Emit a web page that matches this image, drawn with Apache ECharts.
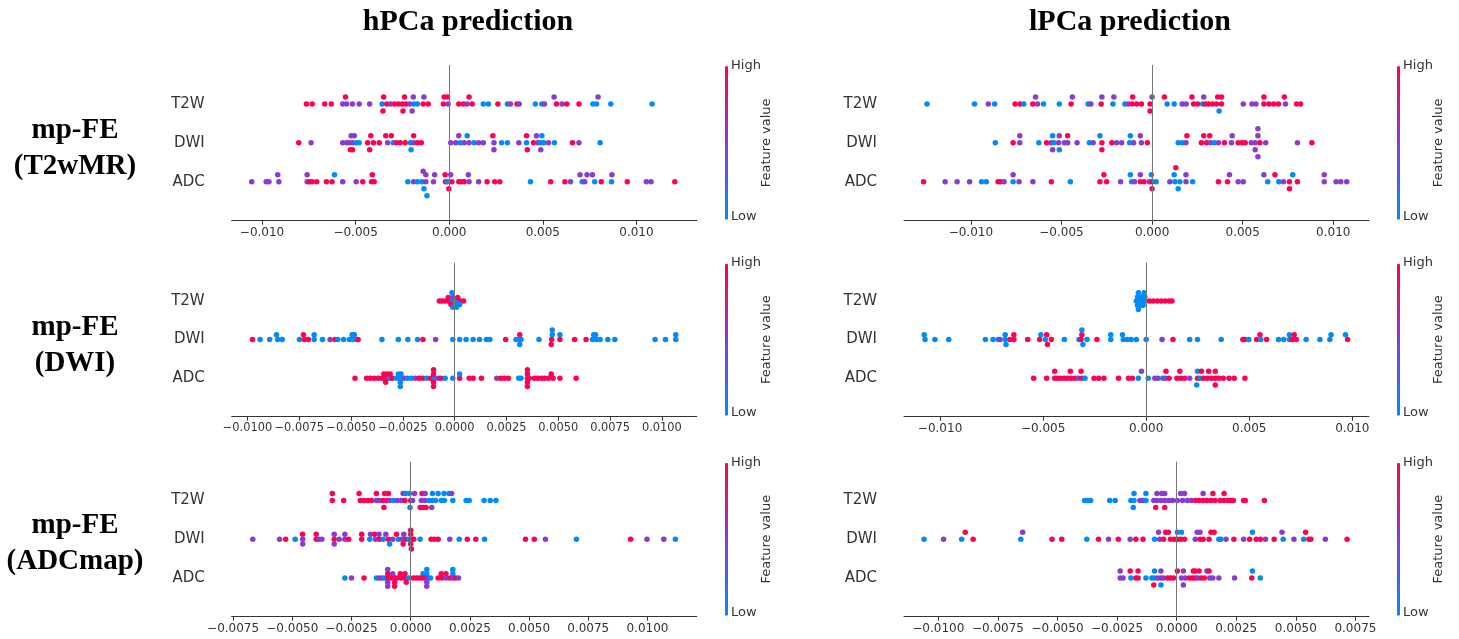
<!DOCTYPE html>
<html>
<head>
<meta charset="utf-8">
<script src="https://cdn.jsdelivr.net/npm/echarts@6/dist/echarts.min.js"></script>
<style>
html,body{margin:0;padding:0;background:#fff;}
#chart{width:1459px;height:639px;}
</style>
</head>
<body>
<div id="chart"></div>
<script>
// ---------- data (SHAP values read in thousandths: [value, swarm level, feature value 0..1]) ----------
const FEATURES = ['T2W', 'DWI', 'ADC'];
const UNIT = 1e-3;
const COL_TITLES = ['hPCa prediction', 'lPCa prediction'];
const ROW_TITLES = [['mp-FE', '(T2wMR)'], ['mp-FE', '(DWI)'], ['mp-FE', '(ADCmap)']];

const ticks5 = [-0.010, -0.005, 0.000, 0.005, 0.010];
const ticks5Labels = ['\u22120.010', '\u22120.005', '0.000', '0.005', '0.010'];
const ticksML = [-0.0100, -0.0075, -0.0050, -0.0025, 0.0000, 0.0025, 0.0050, 0.0075, 0.0100];
const ticksMLLabels = ['\u22120.0100', '\u22120.0075', '\u22120.0050', '\u22120.0025', '0.0000', '0.0025', '0.0050', '0.0075', '0.0100'];
const ticksBL = [-0.0075, -0.0050, -0.0025, 0.0000, 0.0025, 0.0050, 0.0075, 0.0100];
const ticksBLLabels = ['\u22120.0075', '\u22120.0050', '\u22120.0025', '0.0000', '0.0025', '0.0050', '0.0075', '0.0100'];
const ticksBR = [-0.0100, -0.0075, -0.0050, -0.0025, 0.0000, 0.0025, 0.0050, 0.0075];
const ticksBRLabels = ['\u22120.0100', '\u22120.0075', '\u22120.0050', '\u22120.0025', '0.0000', '0.0025', '0.0050', '0.0075'];

// hPCa, mp-FE (T2wMR)
const TL_T2W = [[-5.54,1,1],[-3.50,1,1],[-2.39,1,1],[-1.92,1,.5],[-1.35,1,.5],[-0.27,1,1],[-0.10,1,1],[1.06,1,1],[5.60,1,.5],[7.95,1,.5],
[-7.63,0,1],[-7.32,0,1],[-6.65,0,1],[-6.30,0,1],[-5.69,0,.5],[-5.48,0,.5],[-5.17,0,.5],[-4.81,0,.5],[-4.25,0,.5],[-3.58,0,0],[-3.33,0,1],[-3.13,0,.5],[-2.92,0,1],[-2.72,0,1],[-2.52,0,1],[-2.31,0,1],[-2.11,0,.5],[-1.90,0,0],[-1.70,0,0],[-1.39,0,1],[-1.12,0,1],[-0.31,0,1],[-0.06,0,.5],[0.51,0,1],[0.76,0,1],[0.96,0,.5],[1.23,0,1],[1.82,0,0],[2.09,0,0],[2.60,0,1],[3.11,0,0],[3.27,0,.5],[3.62,0,1],[3.74,0,.5],[4.60,0,0],[4.95,0,0],[5.09,0,.5],[5.73,0,1],[6.03,0,.5],[6.28,0,1],[6.93,0,1],[7.67,0,0],[7.87,0,0],[8.63,0,0],[10.84,0,0],
[-3.54,-1,1],[-2.47,-1,1],[-1.98,-1,.5]];
const TL_DWI = [[-5.24,1,.5],[-5.07,1,.5],[-4.19,1,1],[-3.39,1,1],[-3.09,1,1],[-1.90,1,1],[0.51,1,.5],[0.96,1,0],[2.33,1,1],[4.13,1,1],[4.66,1,.5],[4.95,1,0],
[-8.04,0,1],[-7.38,0,.5],[-5.69,0,.5],[-5.48,0,.5],[-5.34,0,.5],[-5.17,0,.5],[-4.97,0,0],[-4.81,0,0],[-4.36,0,1],[-4.05,0,1],[-3.74,0,1],[-3.29,0,.5],[-2.99,0,0],[-2.82,0,1],[-2.62,0,1],[-2.35,0,1],[-2.07,0,0],[-1.90,0,.5],[-1.70,0,1],[-1.49,0,1],[0.08,0,.5],[0.35,0,.5],[0.59,0,0],[0.80,0,.5],[1.06,0,.5],[1.33,0,0],[1.57,0,.5],[1.82,0,.5],[2.39,0,.5],[2.80,0,0],[3.11,0,0],[3.72,0,.5],[4.13,0,0],[4.50,0,1],[4.74,0,.5],[4.89,0,0],[5.05,0,0],[5.30,0,.5],[5.62,0,0],[6.58,0,1],[6.93,0,.5],[8.06,0,0],
[-5.28,-1,1],[-5.17,-1,1],[-4.25,-1,1],[-2.04,-1,0],[2.39,-1,.5],[4.17,-1,1],[4.89,-1,.5]];
const TL_ADC = [[-9.16,1,.5],[-7.59,1,.5],[-6.13,1,0],[-4.11,1,1],[-1.39,1.5,.5],[-1.25,1,.5],[-0.78,1,.5],[-0.22,1,1],[0.08,1,.5],[1.02,1,.5],[6.99,1,.5],[7.36,1,.5],[7.65,1,.5],[8.69,1,.5],
[-10.55,0,.5],[-9.78,0,.5],[-9.63,0,.5],[-9.10,0,.5],[-7.59,0,.5],[-7.46,0,1],[-7.32,0,1],[-7.08,0,1],[-6.56,0,1],[-6.26,0,1],[-5.69,0,.5],[-4.97,0,.5],[-4.62,0,1],[-4.15,0,1],[-4.01,0,1],[-2.21,0,0],[-1.90,0,.5],[-1.70,0,0],[-1.45,0,0],[-1.25,0,.5],[-0.84,0,.5],[-0.20,0,1],[-0.10,0,0],[0.14,0,1],[0.51,0,1],[0.65,0,1],[0.80,0,1],[1.06,0,.5],[1.57,0,.5],[2.02,0,1],[2.43,0,1],[2.70,0,1],[4.34,0,0],[5.42,0,1],[6.18,0,1],[6.48,0,.5],[7.10,0,0],[7.24,0,.5],[7.77,0,0],[8.12,0,1],[8.67,0,0],[9.51,0,1],[10.53,0,.5],[10.78,0,.5],[12.05,0,1],
[-1.35,-1,0],[-1.19,-2,0],[-0.02,-1,1]];

// lPCa, mp-FE (T2wMR)
const TR_T2W = [[-6.43,1,.5],[-4.40,1,.5],[-2.77,1,.5],[-2.11,1,.5],[-1.07,1,1],[0,1,.5],[0.68,1,1],[2.20,1,1],[2.85,1,.5],[3.62,1,1],[3.83,1,1],[6.17,1,1],[7.30,1,1],
[-12.42,0,0],[-9.80,0,0],[-9.04,0,.5],[-8.69,0,0],[-7.56,0,1],[-7.28,0,1],[-7.08,0,0],[-6.58,0,1],[-6.32,0,.5],[-5.99,0,0],[-5.12,0,0],[-4.47,0,1],[-3.53,0,0],[-3.38,0,.5],[-2.81,0,1],[-2.16,0,0],[-1.50,0,0],[-1.31,0,.5],[-1.09,0,1],[-0.85,0,1],[-0.59,0,1],[-0.11,0,1],[0.83,0,0],[1.22,0,0],[1.66,0,.5],[1.88,0,.5],[2.29,0,1],[2.51,0,1],[2.79,0,0],[2.94,0,1],[3.12,0,1],[3.33,0,1],[3.55,0,1],[3.83,0,1],[5.03,0,.5],[5.51,0,.5],[5.73,0,.5],[6.17,0,1],[6.45,0,1],[6.71,0,1],[6.97,0,1],[7.36,0,.5],[7.97,0,1],[8.19,0,1],
[-0.11,-1,1],[3.70,-1,0]];
const TR_DWI = [[-7.30,1,.5],[-5.49,1,0],[-5.12,1,.5],[-4.66,1,1],[-2.88,1,0],[-1.20,1,0],[-0.65,1,.5],[1.92,1,1],[2.85,1,1],[3.18,1,1],[4.42,1,.5],[5.84,2,.5],[5.84,1,.5],
[-8.65,0,0],[-7.67,0,1],[-7.30,0,.5],[-6.25,0,0],[-5.82,0,1],[-5.56,0,.5],[-5.42,0,0],[-5.16,0,.5],[-4.84,0,.5],[-4.66,0,.5],[-4.14,0,.5],[-3.46,0,0],[-3.25,0,.5],[-2.77,0,1],[-2.22,0,1],[-1.96,0,.5],[-1.68,0,.5],[-1.24,0,0],[-1.02,0,.5],[-0.59,0,.5],[-0.26,0,1],[1.44,0,0],[1.66,0,0],[1.87,0,.5],[2.72,0,1],[3.01,0,1],[3.22,0,.5],[3.44,0,0],[3.66,0,.5],[3.99,0,1],[4.38,0,.5],[4.75,0,1],[4.97,0,1],[5.14,0,1],[5.47,0,.5],[5.69,0,.5],[5.95,0,1],[6.27,0,.5],[8.02,0,.5],[8.82,0,1],
[-5.49,-1,.5],[-5.12,-1,0],[-2.77,-1,1],[5.69,-1,.5],[5.84,-2,.5]];
const TR_ADC = [[-7.67,1,.5],[-2.66,1,1],[-1.20,1,0],[-0.65,1,.5],[-0.04,1,0],[1.31,2,1],[1.22,1,0],[1.87,1,.5],[4.27,1,.5],[6.17,1,.5],[6.78,1,1],[7.76,1,0],[9.50,1,.5],
[-12.61,0,1],[-11.42,0,.5],[-10.76,0,.5],[-10.07,0,.5],[-9.41,0,0],[-9.15,0,0],[-8.50,0,1],[-8.37,0,1],[-8.17,0,.5],[-7.67,0,0],[-7.34,0,.5],[-6.58,0,.5],[-5.56,0,1],[-4.51,0,0],[-2.88,0,1],[-2.51,0,1],[-1.74,0,.5],[-1.13,0,0],[-0.96,0,.5],[-0.65,0,1],[-0.44,0,1],[-0.15,0,.5],[0,0,1],[0.22,0,0],[0.98,0,.5],[1.26,0,0],[1.53,0,0],[1.87,0,.5],[2.24,0,0],[3.66,0,1],[4.16,0,1],[4.75,0,.5],[5.03,0,.5],[6.38,0,0],[6.99,0,0],[7.25,0,.5],[7.58,0,1],[8.02,0,1],[9.50,0,.5],[10.15,0,.5],[10.41,0,.5],[10.74,0,.5],
[0,-1,1],[1.44,-1,0],[7.58,-1,1]];

// hPCa, mp-FE (DWI)
const ML_T2W = [[-0.74,0,1],[-0.61,0,1],[-0.46,0,1],[-0.31,0,1],[-0.09,0,0],[0.09,0,0],[0.28,0,1],[0.43,0,1],
[-0.31,0.5,1],[-0.09,0.5,.5],[0.15,0.5,1],[-0.13,1.2,0],
[-0.18,-0.5,1],[0.09,-0.5,0],[0.24,-0.5,0],[-0.09,-0.9,0],[0.09,-0.9,0]];
const ML_DWI = [[-8.60,0.7,0],[-7.30,0.7,1],[-6.78,0.7,0],[-4.95,0.7,0],[-4.84,0.7,0],[3.14,0.7,1],[4.71,1.4,0],[4.71,0.7,0],[5.08,0.7,0],[6.71,0.7,0],[6.80,0.7,0],[10.67,0.7,0],
[-9.76,0,1],[-9.39,0,0],[-8.93,0,0],[-8.54,0,0],[-8.32,0,0],[-7.49,0,0],[-7.25,0,1],[-7.06,0,1],[-6.78,0,0],[-6.38,0,0],[-6.01,0,.5],[-5.77,0,1],[-5.64,0,0],[-5.36,0,0],[-5.08,0,0],[-4.90,0,0],[-4.71,0,0],[-4.66,0,1],[-3.51,0,0],[-2.72,0,0],[-2.26,0,0],[-1.79,0,0],[-1.53,0,1],[-0.92,0,.5],[-0.09,0,0],[0.24,0,0],[0.55,0,0],[0.89,0,0],[1.20,0,0],[1.53,0,0],[1.70,0,0],[2.46,0,1],[2.96,0,0],[3.09,0,0],[3.20,0,0],[4.07,0,0],[4.68,0,1],[5.08,0,1],[5.79,0,1],[6.34,0,1],[6.65,0,0],[6.84,0,0],[7.02,0,0],[7.39,0,0],[7.73,0,0],[9.67,0,0],[10.17,0,0],[10.67,0,0],
[3.14,-0.7,0],[4.66,-0.7,1]];
const ML_ADC = [[-4.81,0,1],[-4.25,0,1],[-4.07,0,1],[-3.88,0,1],[-3.70,0,1],[-3.51,0,1],[-3.38,0,1],[-3.23,0,1],[-3.14,0,0],[-3.01,0,1],[-2.81,0,0],[-2.62,0,0],[-2.44,0,.5],[-2.27,0,0],[-2.09,0,0],[-1.90,0,.5],[-1.72,0,1],[-1.53,0,1],[-1.35,0,0],[-1.16,0,1],[-0.98,0,0],[-0.79,0,.5],[-0.65,0,1],[-0.46,0,0],[-0.09,0,0],[0.24,0,1],[0.70,0,1],[0.89,0,1],[1.29,0,1],[2.03,0,.5],[2.22,0,1],[2.40,0,1],[2.59,0,1],[3.09,0,0],[3.20,0,0],[3.51,0,.5],[3.60,0,1],[3.84,0,1],[4.01,0,1],[4.20,0,1],[4.34,0,1],[4.53,0,1],[4.75,0,1],[5.08,0,1],[5.86,0,1],
[-3.42,0.6,1],[-3.27,0.6,1],[-3.11,0.6,1],[-2.72,0.6,0],[-2.59,0.6,0],[-1.02,0.6,1],[-1.02,1.2,1],[3.51,0.6,1],[3.51,1.2,1],[4.66,0.6,1],[0.24,0.6,0],
[-3.33,-0.6,1],[-2.62,-0.6,0],[-2.62,-1.2,0],[-1.02,-0.6,1],[-1.02,-1.2,1],[3.51,-0.6,1],[3.51,-1.2,1]];

// lPCa, mp-FE (DWI)
const MR_T2W = [[-0.48,0,0],[-0.34,0,0],[-0.19,0,0],[-0.06,0,0],[0.15,0,1],[0.34,0,1],[0.54,0,1],[0.73,0,1],[0.92,0,1],[1.11,0,1],[1.25,0,1],
[-0.42,0.6,0],[-0.30,0.6,0],[-0.19,0.6,0],[-0.06,0.6,0],[-0.38,1.2,0],[-0.10,1.2,0],
[-0.42,-0.6,0],[-0.25,-0.6,0],[-0.15,-0.6,0],[-0.38,-1.2,0]];
const MR_DWI = [[-10.77,0.7,0],[-6.84,0.7,0],[-6.42,0.7,1],[-5.11,0.7,0],[-4.83,0.7,1],[-3.12,0.7,1],[-3.12,1.4,0],[-1.72,0.7,0],[-1.15,0.7,0],[5.52,0.7,1],[6.95,0.7,0],[7.18,0.7,1],[8.97,0.7,0],[9.67,0.7,0],
[-10.73,0,0],[-10.25,0,0],[-9.58,0,0],[-7.80,0,0],[-7.43,0,0],[-7.18,0,0],[-7.09,0,.5],[-6.84,0,0],[-6.61,0,1],[-6.42,0,1],[-5.75,0,1],[-5.17,0,1],[-4.89,0,0],[-4.60,0,1],[-3.97,0,0],[-3.26,0,0],[-3.16,0,1],[-2.87,0,0],[-2.39,0,1],[-1.72,0,0],[-1.11,0,0],[-0.92,0,0],[-0.73,0,0],[-0.48,0,0],[0,0,0],[0.77,0,.5],[1.30,0,1],[2.11,0,0],[2.49,0,0],[3.64,0,0],[4.69,0,1],[4.79,0,1],[4.98,0,0],[5.36,0,1],[5.56,0,0],[5.84,0,1],[6.42,0,0],[6.67,0,0],[6.95,0,0],[7.09,0,1],[7.28,0,1],[7.76,0,0],[8.43,0,0],[8.91,0,0],[9.77,0,1],
[-6.80,-0.7,0],[-4.79,-0.7,1],[-3.07,-0.7,0]];
const MR_ADC = [[-4.44,1,1],[-3.68,1,1],[-3.16,1,1],[-0.23,1,.5],[0.96,1,1],[1.63,1,1],[2.49,1,0],[2.68,1,1],[3.03,1,1],[3.35,1,1],
[-5.46,0,1],[-4.83,0,1],[-4.44,0,1],[-4.31,0,1],[-4.16,0,1],[-3.98,0,1],[-3.83,0,1],[-3.64,0,1],[-3.45,0,1],[-3.30,0,.5],[-3.12,0,1],[-2.97,0,0],[-2.53,0,1],[-2.30,0,1],[-2.05,0,1],[-1.34,0,1],[-0.86,0,1],[-0.67,0,1],[-0.38,0,0],[0.10,0,0],[0.42,0,.5],[0.57,0,.5],[0.80,0,0],[0.92,0,.5],[1.11,0,1],[1.49,0,1],[1.69,0,1],[1.88,0,1],[2.11,0,.5],[2.49,0,1],[2.62,0,0],[2.78,0,1],[2.97,0,1],[3.16,0,1],[3.35,0,1],[3.54,0,1],[3.74,0,1],[4.02,0,1],[4.27,0,1],[4.79,0,1],
[2.45,-1,0],[3.35,-1,1]];

// hPCa, mp-FE (ADCmap)
const BL_T2W = [[-3.31,1,1],[-2.18,1,1],[-1.45,1,1],[-1.10,1,1],[-0.94,1,1],[-0.32,1,.5],[-0.21,1,0],[-0.05,1,0],[0.16,1,.5],[0.48,1,1],[0.61,1,.5],[0.92,1,0],[1.16,1,0],[1.41,1,0],[1.62,1,0],[1.73,1,.5],
[-3.31,0,1],[-2.83,0,1],[-2.13,0,1],[-1.97,0,1],[-1.81,0,1],[-1.65,0,1],[-1.45,0,.5],[-1.32,0,.5],[-1.16,0,1],[-1.00,0,1],[-0.89,0,.5],[-0.73,0,0],[-0.57,0,.5],[-0.40,0,.5],[-0.24,0,1],[0,0,1],[0.08,0,.5],[0.45,0,.5],[0.61,0,.5],[0.78,0,0],[0.92,0,0],[1.05,0,0],[1.29,0,0],[1.42,0,0],[1.78,0,0],[2.34,0,0],[2.47,0,0],[3.10,0,0],[3.36,0,0],[3.60,0,0],
[-1.13,-1,1],[-0.03,-1,0],[0.40,-1,1],[0.52,-1,1],[0.65,-1,1],[0.89,-1,.5]];
const BL_DWI = [[-4.57,0.7,1],[-3.99,0.7,1],[-3.23,0.7,.5],[-2.78,0.7,.5],[-2.07,0.7,1],[-1.70,0.7,.5],[-1.53,0.7,1],[-1.34,0.7,.5],[-1.05,0.7,.5],[-0.60,0.7,1],[-0.29,0.7,.5],[0,0.7,1],[0,1.3,1],
[-6.67,0,.5],[-5.54,0,.5],[-5.28,0,1],[-4.88,0,0],[-4.56,0,.5],[-3.99,0,1],[-3.88,0,.5],[-3.75,0,.5],[-3.23,0,1],[-3.02,0,.5],[-2.78,0,.5],[-2.62,0,1],[-2.07,0,1],[-1.73,0,0],[-1.49,0,.5],[-1.32,0,1],[-1.16,0,0],[-0.94,0,1],[-0.76,0,.5],[-0.52,0,0],[-0.37,0,.5],[-0.21,0,1],[-0.08,0,0],[0.03,0,1],[0.13,0,1],[0.40,0,0],[0.86,0,1],[1.00,0,1],[1.16,0,1],[1.65,0,.5],[2.05,0,0],[2.39,0,1],[2.75,0,1],[3.12,0,0],[4.85,0,1],[5.22,0,1],[5.69,0,.5],[7.00,0,0],[9.29,0,1],[9.98,0,.5],[10.69,0,.5],[11.18,0,0],
[-4.56,-0.7,.5],[-3.23,-0.7,.5],[-0.89,-0.7,0],[-0.32,-0.7,1],[0,-0.7,1],[0.03,-1.4,1]];
const BL_ADC = [[-0.97,1.2,.5],[0.68,1.2,0],[1.78,1.2,0],
[-0.97,0.6,1],[-0.76,0.6,.5],[-0.44,0.6,1],[-0.24,0.6,1],[0.52,0.6,0],[0.68,0.6,0],[1.29,0.6,1],[1.49,0.6,1],[1.78,0.6,0],
[-2.78,0,0],[-2.50,0,.5],[-1.97,0,1],[-1.45,0,0],[-1.32,0,.5],[-1.21,0,.5],[-1.10,0,0],[-0.97,0,1],[-0.84,0,1],[-0.68,0,1],[-0.57,0,1],[-0.40,0,1],[-0.24,0,1],[-0.08,0,0],[0.11,0,1],[0.24,0,1],[0.36,0,1],[0.48,0,1],[0.60,0,1],[0.73,0,.5],[0.84,0,0],[1.16,0,1],[1.32,0,1],[1.49,0,.5],[1.65,0,1],[1.78,0,.5],[1.89,0,1],[2.02,0,.5],
[-0.97,-0.6,.5],[-0.68,-0.6,1],[-0.19,-0.6,1],[0.68,-0.6,.5],[-0.97,-1.2,.5],[-0.68,-1.2,1],[0.68,-1.2,.5]];

// lPCa, mp-FE (ADCmap)
const BR_T2W = [[-1.79,1,0],[-1.29,1,0],[-0.83,1,.5],[-0.63,1,.5],[-0.50,1,.5],[0.17,1,.5],[0.33,1,.5],[1.11,1,.5],[1.52,1,1],[1.99,1,1],
[-3.86,0,0],[-3.74,0,0],[-3.61,0,0],[-2.81,0,0],[-2.58,0,0],[-1.92,0,0],[-1.79,0,0],[-1.54,0,.5],[-1.41,0,.5],[-1.29,0,0],[-0.96,0,.5],[-0.83,0,.5],[-0.66,0,.5],[-0.50,0,.5],[-0.33,0,.5],[-0.17,0,.5],[0.03,0,.5],[0.25,0,.5],[0.45,0,.5],[0.61,0,.5],[0.78,0,1],[0.94,0,1],[1.11,0,1],[1.27,0,1],[1.44,0,1],[1.61,0,1],[1.82,0,1],[1.99,0,1],[2.15,0,1],[2.27,0,1],[2.38,0,1],[2.81,0,1],[2.88,0,1],[3.68,0,1],
[-1.82,-1,0],[-0.88,-1,1],[-0.50,-1,1]];
const BR_DWI = [[-8.87,1,1],[-6.46,1,.5],[-0.76,1,.5],[-0.46,1,1],[-0.35,1,1],[0.03,1,0],[0.20,1,0],[0.86,1,.5],[0.98,1,.5],[1.44,1,1],[1.57,1,1],[3.18,1,0],[4.42,1,.5],[5.41,1,1],
[-10.60,0,0],[-9.78,0,.5],[-9.02,0,0],[-8.54,0,1],[-6.54,0,0],[-5.23,0,1],[-4.82,0,1],[-3.77,0,0],[-3.28,0,1],[-2.86,0,.5],[-2.45,0,1],[-1.95,0,.5],[-1.71,0,1],[-1.41,0,1],[-0.93,0,0],[-0.71,0,.5],[-0.55,0,1],[-0.26,0,1],[-0.10,0,1],[0.03,0,1],[0.17,0,1],[0.33,0,1],[0.78,0,.5],[0.98,0,1],[1.11,0,1],[1.36,0,1],[1.77,0,0],[1.85,0,0],[2.07,0,.5],[2.40,0,1],[2.81,0,.5],[3.06,0,1],[3.34,0,1],[3.51,0,1],[3.73,0,.5],[4.09,0,1],[4.47,0,0],[4.92,0,.5],[5.33,0,0],[5.55,0,1],[5.63,0,1],[6.24,0,.5],[7.15,0,1]];
const BR_ADC = [[-2.37,1,.5],[-1.95,1,1],[-1.62,1,1],[-0.93,1,0],[-0.66,1,.5],[0.03,1,1],[0.28,1,.5],[0.70,1,1],[0.78,1,1],[0.94,1,1],[1.27,1,.5],[1.36,1,1],[3.18,1,0],
[-2.37,0,.5],[-2.25,0,.5],[-1.92,0,0],[-1.71,0,1],[-1.62,0,1],[-1.29,0,0],[-1.04,0,0],[-0.93,0,0],[-0.79,0,.5],[-0.66,0,.5],[-0.55,0,.5],[-0.38,0,1],[-0.26,0,1],[-0.13,0,1],[0.20,0,.5],[0.36,0,.5],[0.53,0,1],[0.66,0,1],[0.78,0,1],[0.89,0,.5],[1.03,0,1],[1.16,0,1],[1.39,0,.5],[1.52,0,.5],[1.77,0,.5],[2.43,0,.5],[3.15,0,1],[3.51,0,0],
[-0.96,-1,1],[-0.66,-1,0],[0.28,-1,.5]];

// ---------- layout & style ----------
const LEVEL_STEP = 0.18;   // row units per swarm level
const COLORS = ['#008bfb', '#8a3bd0', '#ff0052'];
const FONT = "'DejaVu Sans', sans-serif";
const SERIF = "'Liberation Serif', 'Times New Roman', serif";
const LEFT_X = 231.7, RIGHT_X = 904, PW = 465;
const ROW_TOP = [65, 262.5, 461.7], ROW_H = [155.7, 154.2, 155];

const panels = [
  {x: LEFT_X,  r: 0, min: -0.01162, max: 0.01322, ticks: ticks5, labels: ticks5Labels, fs: 12, pts: [TL_T2W, TL_DWI, TL_ADC]},
  {x: RIGHT_X, r: 0, min: -0.01369, max: 0.01197, ticks: ticks5, labels: ticks5Labels, fs: 12, pts: [TR_T2W, TR_DWI, TR_ADC]},
  {x: LEFT_X,  r: 1, min: -0.01076, max: 0.01168, ticks: ticksML, labels: ticksMLLabels, fs: 11.4, pts: [ML_T2W, ML_DWI, ML_ADC]},
  {x: RIGHT_X, r: 1, min: -0.01175, max: 0.01081, ticks: ticks5, labels: ticks5Labels, fs: 12, pts: [MR_T2W, MR_DWI, MR_ADC]},
  {x: LEFT_X,  r: 2, min: -0.00756, max: 0.01208, ticks: ticksBL, labels: ticksBLLabels, fs: 12, pts: [BL_T2W, BL_DWI, BL_ADC]},
  {x: RIGHT_X, r: 2, min: -0.01144, max: 0.00807, ticks: ticksBR, labels: ticksBRLabels, fs: 12, pts: [BR_T2W, BR_DWI, BR_ADC]}
];

const grid = [], xAxis = [], yAxis = [], series = [], visualMap = [], graphic = [];

panels.forEach((p, i) => {
  const top = ROW_TOP[p.r], h = ROW_H[p.r];
  grid.push({left: p.x, top: top, width: PW, height: h, containLabel: false});
  xAxis.push({
    type: 'value', gridIndex: i, min: p.min, max: p.max,
    axisLine: {show: true, onZero: false, lineStyle: {color: '#333', width: 1}},
    axisTick: {show: true, length: 4, customValues: p.ticks, lineStyle: {color: '#333'}},
    axisLabel: {customValues: p.ticks, color: '#333', fontSize: p.fs, fontFamily: FONT, margin: 6,
      hideOverlap: false, showMinLabel: true, showMaxLabel: true,
      formatter: v => { const k = p.ticks.findIndex(t => Math.abs(t - v) < 1e-9); return k >= 0 ? p.labels[k] : ''; }},
    splitLine: {show: false}
  });
  yAxis.push({
    type: 'value', gridIndex: i, min: -1, max: 3, interval: 1, inverse: true,
    axisLine: {show: false}, axisTick: {show: false}, splitLine: {show: false},
    axisLabel: {color: '#333', fontSize: 15, fontFamily: FONT, margin: 27,
      formatter: v => (v >= 0 && v < FEATURES.length) ? FEATURES[v] : ''}
  });
  const data = [];
  p.pts.forEach((arr, row) => arr.forEach(d => data.push([d[0] * UNIT, row - d[1] * LEVEL_STEP, d[2]])));
  series.push({
    type: 'scatter', xAxisIndex: i, yAxisIndex: i, symbolSize: 5.5, data: data, silent: true,
    itemStyle: {opacity: 1},
    markLine: {silent: true, symbol: 'none', label: {show: false}, animation: false,
      lineStyle: {color: '#777', width: 1, type: 'solid'}, data: [{xAxis: 0}]},
    z: 3
  });
  const cbX = p.x === LEFT_X ? 725 : 1397;
  visualMap.push({
    type: 'continuous', min: 0, max: 1, dimension: 2, seriesIndex: i, calculable: false,
    inRange: {color: COLORS}, itemWidth: 3, itemHeight: h - 2, left: cbX, top: top + 1,
    padding: 0, text: null, orient: 'vertical', hoverLink: false
  });
  const tf = {fill: '#333', fontSize: 13, fontFamily: FONT};
  graphic.push({type: 'text', left: cbX + 6, top: top - 6, style: Object.assign({text: 'High'}, tf)});
  graphic.push({type: 'text', left: cbX + 6, top: top + h - 11, style: Object.assign({text: 'Low'}, tf)});
  graphic.push({type: 'text', x: cbX + 42, y: top + h / 2, rotation: Math.PI / 2,
    style: Object.assign({text: 'Feature value', align: 'center', verticalAlign: 'middle'}, tf)});
});

// column and row titles
graphic.push({type: 'text', x: 468, y: 22, style: {text: COL_TITLES[0], align: 'center', verticalAlign: 'middle', font: "bold 30px " + SERIF, fill: '#000'}});
graphic.push({type: 'text', x: 1130, y: 22, style: {text: COL_TITLES[1], align: 'center', verticalAlign: 'middle', font: "bold 30px " + SERIF, fill: '#000'}});
const rowCentersY = [149, 346, 544];
ROW_TITLES.forEach((t, r) => {
  graphic.push({type: 'text', x: 75, y: rowCentersY[r] - 18, style: {text: t[0], align: 'center', verticalAlign: 'middle', font: "bold 29px " + SERIF, fill: '#000'}});
  graphic.push({type: 'text', x: 75, y: rowCentersY[r] + 18, style: {text: t[1], align: 'center', verticalAlign: 'middle', font: "bold 29px " + SERIF, fill: '#000'}});
});

const chart = echarts.init(document.getElementById('chart'), null, {renderer: 'canvas'});
chart.setOption({animation: false, backgroundColor: '#fff', grid, xAxis, yAxis, series, visualMap, graphic});
</script>
</body>
</html>
